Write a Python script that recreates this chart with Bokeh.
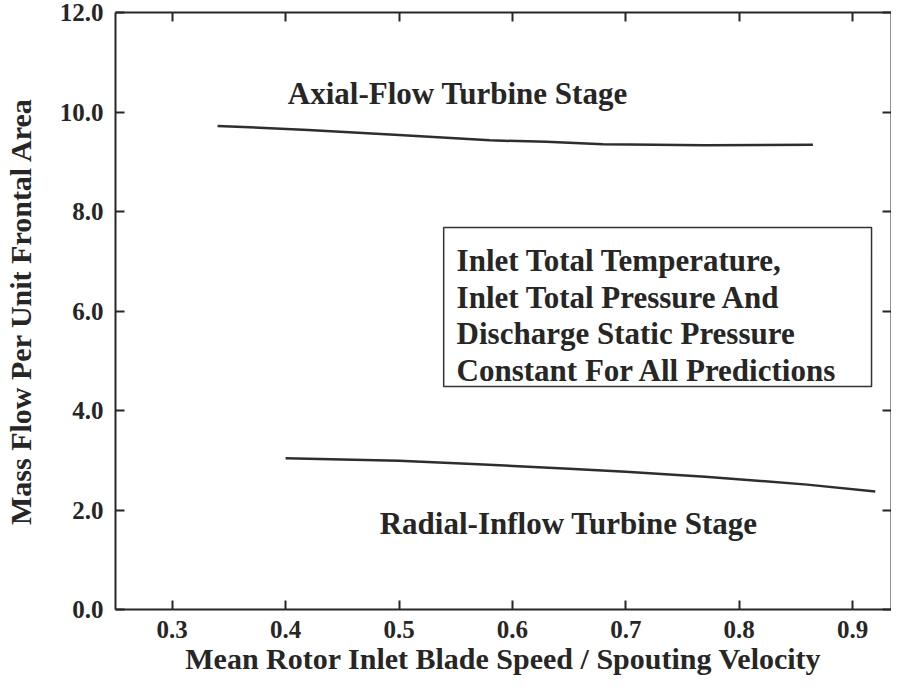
from bokeh.plotting import figure
from bokeh.models import (Range1d, LinearAxis, FixedTicker, PrintfTickFormatter,
                          BoxAnnotation, Label)
from bokeh.embed import file_html
from bokeh.resources import INLINE

# ---- data ----
axial_x = [0.34, 0.42, 0.50, 0.58, 0.63, 0.68, 0.77, 0.865]
axial_y = [9.72, 9.64, 9.54, 9.43, 9.40, 9.35, 9.33, 9.34]

radial_x = [0.40, 0.50, 0.56, 0.65, 0.70, 0.77, 0.86, 0.92]
radial_y = [3.04, 2.99, 2.93, 2.83, 2.77, 2.67, 2.51, 2.37]

x_ticks = [0.3, 0.4, 0.5, 0.6, 0.7, 0.8, 0.9]
y_ticks = [0.0, 2.0, 4.0, 6.0, 8.0, 10.0, 12.0]

axial_name = "Axial-Flow Turbine Stage"
radial_name = "Radial-Inflow Turbine Stage"
note_lines = ["Inlet Total Temperature,",
              "Inlet Total Pressure And",
              "Discharge Static Pressure",
              "Constant For All Predictions"]

x_title = "Mean Rotor Inlet Blade Speed / Spouting Velocity"
y_title = "Mass Flow Per Unit Frontal Area"

FONT = "Liberation Serif"
INK = "#262626"

p = figure(width=891, height=683, output_backend="svg", toolbar_location=None,
           x_range=Range1d(0.25, 0.9343), y_range=Range1d(0, 12),
           min_border_left=112, min_border_top=12, min_border_bottom=74,
           min_border_right=0, x_axis_type=None, y_axis_type=None)
p.outline_line_color = None
p.background_fill_color = "white"
p.border_fill_color = "white"
p.xgrid.visible = False
p.ygrid.visible = False


def style_axis(ax, show_labels):
    ax.axis_line_color = INK
    ax.axis_line_width = 2
    ax.major_tick_line_color = INK
    ax.major_tick_line_width = 2
    ax.major_tick_in = 9
    ax.major_tick_out = 0
    ax.minor_tick_line_color = None
    if show_labels:
        ax.major_label_text_font = FONT
        ax.major_label_text_font_style = "bold"
        ax.major_label_text_color = INK
        ax.major_label_text_font_size = "25px"
    else:
        ax.major_label_text_color = None
        ax.major_label_text_font_size = "1px"
        ax.major_label_standoff = 0


xb = LinearAxis(ticker=FixedTicker(ticks=x_ticks),
                formatter=PrintfTickFormatter(format="%.1f"))
style_axis(xb, True)
xb.major_label_standoff = 11
xb.axis_label = x_title
xb.axis_label_standoff = 1
xb.axis_label_text_font = FONT
xb.axis_label_text_font_style = "bold"
xb.axis_label_text_font_size = "30px"
xb.axis_label_text_color = INK
p.add_layout(xb, "below")

yl = LinearAxis(ticker=FixedTicker(ticks=y_ticks),
                formatter=PrintfTickFormatter(format="%.1f"))
style_axis(yl, True)
yl.major_label_standoff = 12
yl.axis_label = y_title
yl.axis_label_standoff = 20
yl.axis_label_text_font = FONT
yl.axis_label_text_font_style = "bold"
yl.axis_label_text_font_size = "30px"
yl.axis_label_text_color = INK
p.add_layout(yl, "left")

xt = LinearAxis(ticker=FixedTicker(ticks=x_ticks))
style_axis(xt, False)
p.add_layout(xt, "above")

yr = LinearAxis(ticker=FixedTicker(ticks=y_ticks))
style_axis(yr, False)
p.add_layout(yr, "right")

# curves
p.line(axial_x, axial_y, line_color="#2e2e2e", line_width=2.5)
p.line(radial_x, radial_y, line_color="#2e2e2e", line_width=2.5)

# curve names
p.add_layout(Label(x=0.402, y=10.37, text=axial_name, text_font=FONT,
                   text_font_style="bold", text_font_size="31px",
                   text_color=INK, text_baseline="alphabetic"))
p.add_layout(Label(x=0.483, y=1.73, text=radial_name, text_font=FONT,
                   text_font_style="bold", text_font_size="31px",
                   text_color=INK, text_baseline="alphabetic"))

# note box
p.add_layout(BoxAnnotation(left=0.5394, right=0.9167, bottom=4.48, top=7.68,
                           fill_color=None, fill_alpha=0,
                           line_color="#333333", line_alpha=1.0,
                           line_width=1.5))
for i, line in enumerate(note_lines):
    p.add_layout(Label(x=0.5508, y=7.015 - i * 0.738, text=line,
                       text_font=FONT, text_font_style="bold",
                       text_font_size="31px", text_color=INK,
                       text_baseline="alphabetic"))

open("out.html", "w").write(file_html(p, INLINE))
